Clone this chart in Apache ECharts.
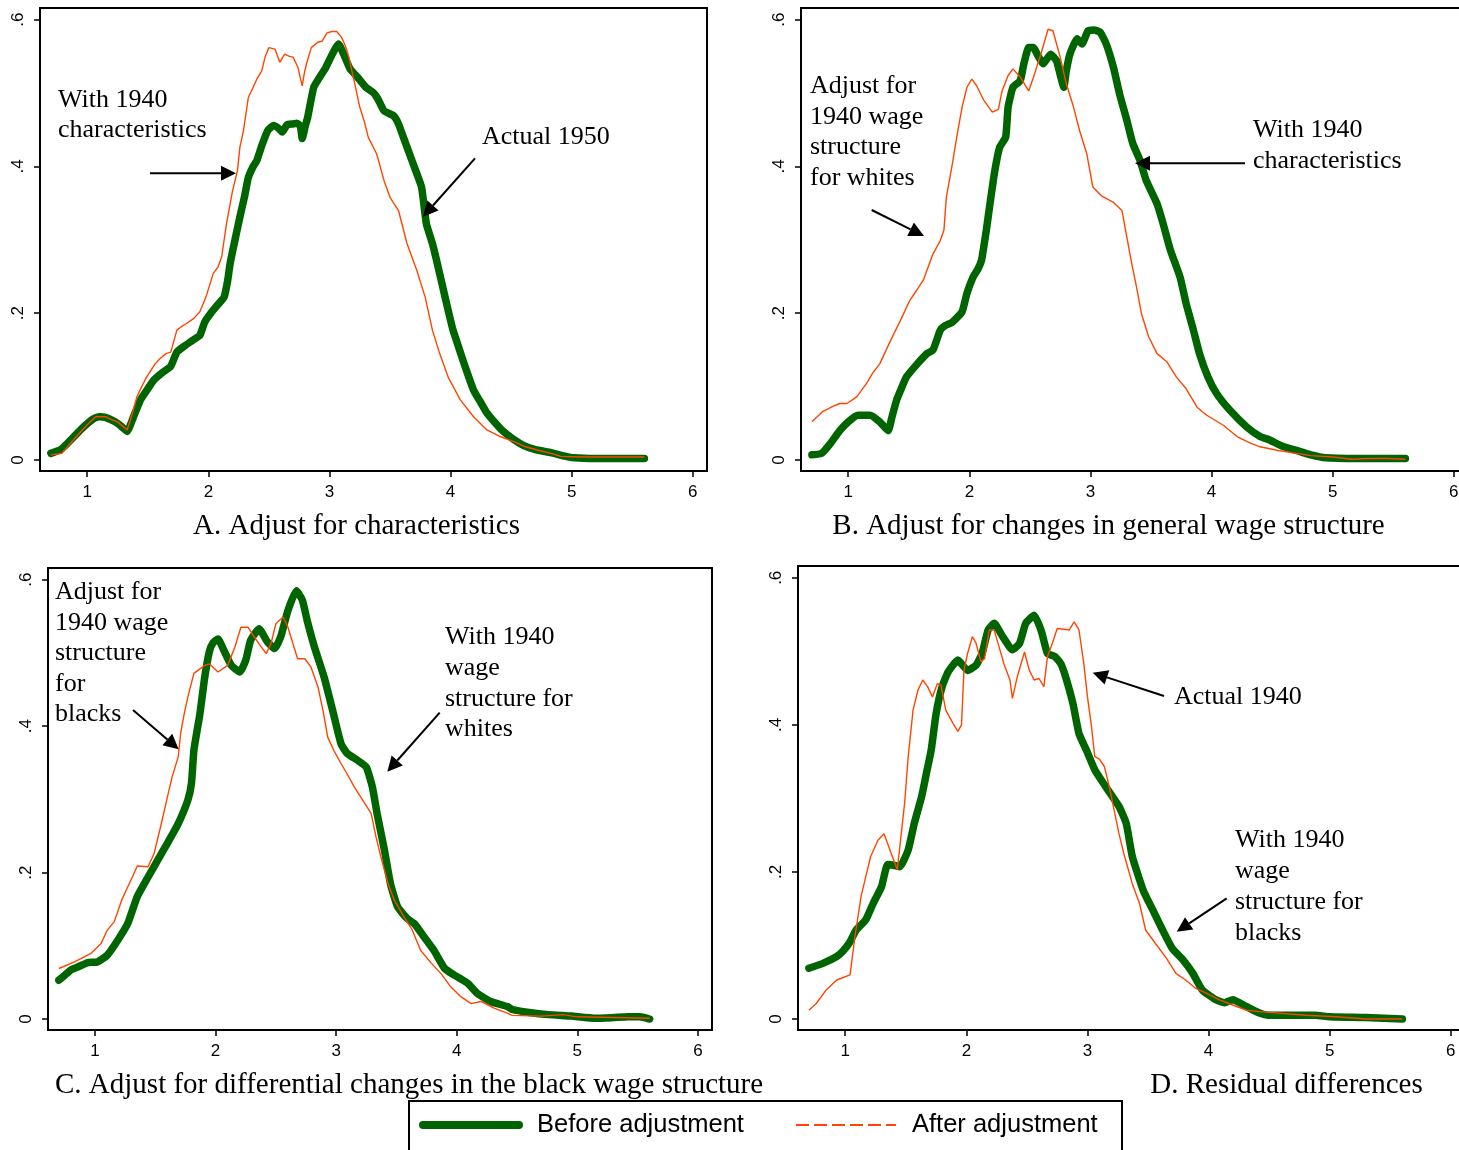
<!DOCTYPE html>
<html>
<head>
<meta charset="utf-8">
<script src="https://cdn.jsdelivr.net/npm/echarts@6/dist/echarts.min.js"></script>
<style>
html,body{margin:0;padding:0;background:#fff;}
#chart{width:1459px;height:1150px;}
</style>
</head>
<body>
<div id="chart"></div>
<script>
// ---------- Data (x = log wage, y = density) ----------
const xTicks = [1, 2, 3, 4, 5, 6];
const yTicks = [0, 0.2, 0.4, 0.6];

const panelTitles = [
  "A. Adjust for characteristics",
  "B. Adjust for changes in general wage structure",
  "C. Adjust for differential changes in the black wage structure",
  "D. Residual differences"
];
const legendLabels = ["Before adjustment", "After adjustment"];

const aBefore = [[0.70,0.009],[0.78,0.014],[0.85,0.025],[0.95,0.042],[1.05,0.056],[1.10,0.059],[1.15,0.058],[1.23,0.052],[1.28,0.046],[1.33,0.039],[1.38,0.058],[1.44,0.082],[1.50,0.097],[1.55,0.109],[1.62,0.119],[1.69,0.128],[1.74,0.147],[1.80,0.155],[1.87,0.163],[1.93,0.170],[1.97,0.188],[2.02,0.200],[2.08,0.212],[2.13,0.222],[2.16,0.245],[2.18,0.268],[2.22,0.300],[2.26,0.331],[2.30,0.360],[2.33,0.385],[2.37,0.400],[2.40,0.408],[2.44,0.428],[2.49,0.449],[2.54,0.456],[2.58,0.452],[2.61,0.447],[2.65,0.457],[2.70,0.458],[2.73,0.459],[2.76,0.455],[2.775,0.438],[2.80,0.455],[2.82,0.467],[2.87,0.508],[2.92,0.522],[2.97,0.535],[3.02,0.552],[3.075,0.567],[3.12,0.552],[3.17,0.533],[3.23,0.522],[3.30,0.508],[3.36,0.501],[3.40,0.492],[3.45,0.476],[3.53,0.469],[3.57,0.458],[3.61,0.440],[3.65,0.422],[3.69,0.404],[3.76,0.372],[3.80,0.322],[3.85,0.295],[3.89,0.268],[3.96,0.218],[4.02,0.177],[4.07,0.152],[4.11,0.132],[4.19,0.095],[4.25,0.078],[4.30,0.064],[4.41,0.043],[4.45,0.037],[4.52,0.028],[4.60,0.020],[4.70,0.014],[4.83,0.010],[4.92,0.006],[5.02,0.003],[5.20,0.002],[5.40,0.002],[5.60,0.002]];
const aAfter = [[0.70,0.007],[0.79,0.009],[0.90,0.030],[1.00,0.048],[1.07,0.059],[1.15,0.059],[1.20,0.055],[1.25,0.052],[1.33,0.041],[1.37,0.062],[1.41,0.086],[1.45,0.100],[1.49,0.113],[1.56,0.131],[1.60,0.138],[1.65,0.145],[1.69,0.147],[1.74,0.177],[1.78,0.182],[1.82,0.186],[1.88,0.193],[1.93,0.202],[1.98,0.222],[2.04,0.254],[2.08,0.263],[2.11,0.277],[2.15,0.322],[2.20,0.367],[2.24,0.394],[2.26,0.426],[2.29,0.449],[2.33,0.494],[2.37,0.508],[2.40,0.519],[2.44,0.530],[2.47,0.550],[2.50,0.562],[2.55,0.560],[2.59,0.542],[2.63,0.553],[2.67,0.550],[2.70,0.549],[2.74,0.535],[2.76,0.520],[2.775,0.510],[2.79,0.525],[2.81,0.540],[2.85,0.562],[2.90,0.569],[2.94,0.571],[2.98,0.582],[3.02,0.584],[3.06,0.584],[3.10,0.576],[3.13,0.565],[3.16,0.549],[3.21,0.512],[3.25,0.481],[3.29,0.460],[3.32,0.440],[3.39,0.417],[3.45,0.381],[3.50,0.358],[3.57,0.340],[3.64,0.295],[3.72,0.259],[3.79,0.222],[3.85,0.177],[3.91,0.145],[3.98,0.113],[4.08,0.082],[4.19,0.059],[4.30,0.041],[4.41,0.032],[4.52,0.025],[4.62,0.018],[4.73,0.013],[4.83,0.009],[4.91,0.005],[5.10,0.004],[5.30,0.004],[5.60,0.004]];

const bBefore = [[0.70,0.007],[0.78,0.009],[0.85,0.022],[0.93,0.040],[1.00,0.052],[1.08,0.061],[1.18,0.061],[1.26,0.052],[1.33,0.040],[1.36,0.058],[1.40,0.082],[1.44,0.098],[1.48,0.113],[1.57,0.131],[1.65,0.145],[1.70,0.150],[1.76,0.177],[1.80,0.183],[1.86,0.188],[1.94,0.202],[1.98,0.227],[2.03,0.249],[2.07,0.260],[2.10,0.272],[2.14,0.313],[2.17,0.349],[2.21,0.394],[2.25,0.426],[2.30,0.440],[2.32,0.481],[2.36,0.508],[2.42,0.517],[2.45,0.540],[2.49,0.562],[2.53,0.562],[2.56,0.553],[2.61,0.540],[2.67,0.553],[2.72,0.544],[2.75,0.525],[2.78,0.508],[2.80,0.530],[2.83,0.553],[2.89,0.574],[2.93,0.567],[2.98,0.585],[3.03,0.586],[3.08,0.583],[3.13,0.567],[3.19,0.535],[3.24,0.499],[3.30,0.463],[3.35,0.431],[3.41,0.408],[3.46,0.381],[3.55,0.349],[3.60,0.322],[3.66,0.286],[3.74,0.249],[3.79,0.213],[3.85,0.177],[3.90,0.145],[3.97,0.113],[4.04,0.091],[4.15,0.068],[4.29,0.045],[4.40,0.032],[4.47,0.028],[4.58,0.019],[4.70,0.013],[4.82,0.007],[4.94,0.003],[5.20,0.002],[5.60,0.002]];
const bAfter = [[0.70,0.052],[0.79,0.066],[0.86,0.072],[0.93,0.077],[0.99,0.077],[1.07,0.086],[1.15,0.104],[1.20,0.118],[1.26,0.131],[1.35,0.163],[1.43,0.190],[1.51,0.218],[1.56,0.230],[1.62,0.245],[1.70,0.281],[1.76,0.299],[1.79,0.313],[1.81,0.358],[1.86,0.404],[1.90,0.444],[1.94,0.481],[1.98,0.508],[2.02,0.519],[2.06,0.510],[2.12,0.490],[2.19,0.474],[2.24,0.478],[2.27,0.503],[2.32,0.524],[2.36,0.533],[2.42,0.522],[2.49,0.503],[2.53,0.522],[2.59,0.553],[2.65,0.587],[2.69,0.585],[2.75,0.549],[2.80,0.513],[2.86,0.481],[2.91,0.449],[2.97,0.417],[3.02,0.372],[3.09,0.360],[3.19,0.351],[3.26,0.340],[3.30,0.304],[3.34,0.268],[3.38,0.236],[3.42,0.200],[3.48,0.168],[3.55,0.145],[3.63,0.134],[3.71,0.113],[3.79,0.097],[3.88,0.072],[3.96,0.061],[4.10,0.047],[4.21,0.032],[4.32,0.023],[4.40,0.018],[4.55,0.013],[4.70,0.009],[4.82,0.006],[5.00,0.004],[5.16,0.001],[5.30,0.002],[5.45,0.002],[5.60,0.001]];

const cBefore = [[0.70,0.053],[0.75,0.060],[0.80,0.067],[0.87,0.072],[0.94,0.077],[1.02,0.078],[1.10,0.087],[1.19,0.108],[1.27,0.130],[1.35,0.167],[1.44,0.194],[1.52,0.217],[1.60,0.240],[1.69,0.267],[1.77,0.299],[1.80,0.322],[1.82,0.367],[1.87,0.417],[1.91,0.467],[1.95,0.503],[1.98,0.514],[2.02,0.519],[2.07,0.503],[2.13,0.483],[2.20,0.474],[2.25,0.490],[2.29,0.517],[2.36,0.533],[2.43,0.515],[2.49,0.506],[2.54,0.522],[2.60,0.558],[2.67,0.585],[2.72,0.572],[2.76,0.544],[2.82,0.508],[2.90,0.467],[2.97,0.422],[3.04,0.376],[3.09,0.363],[3.18,0.353],[3.25,0.344],[3.30,0.317],[3.34,0.280],[3.40,0.231],[3.45,0.185],[3.51,0.153],[3.59,0.137],[3.65,0.130],[3.73,0.112],[3.81,0.094],[3.90,0.069],[3.98,0.060],[4.09,0.049],[4.17,0.035],[4.28,0.024],[4.42,0.017],[4.46,0.013],[4.60,0.009],[4.76,0.006],[4.95,0.004],[5.15,0.001],[5.30,0.002],[5.42,0.003],[5.52,0.003],[5.60,0.000]];
const cAfter = [[0.70,0.069],[0.83,0.078],[0.97,0.090],[1.05,0.103],[1.10,0.121],[1.16,0.133],[1.22,0.162],[1.27,0.180],[1.31,0.194],[1.35,0.209],[1.44,0.208],[1.49,0.226],[1.55,0.267],[1.60,0.303],[1.64,0.331],[1.69,0.358],[1.71,0.390],[1.74,0.417],[1.77,0.440],[1.82,0.472],[1.91,0.483],[1.95,0.485],[2.02,0.474],[2.10,0.483],[2.16,0.508],[2.21,0.535],[2.27,0.535],[2.32,0.522],[2.38,0.508],[2.42,0.499],[2.46,0.513],[2.50,0.540],[2.56,0.549],[2.60,0.535],[2.65,0.508],[2.68,0.492],[2.74,0.492],[2.79,0.481],[2.85,0.453],[2.89,0.422],[2.93,0.385],[2.98,0.367],[3.04,0.349],[3.09,0.335],[3.15,0.317],[3.22,0.299],[3.29,0.281],[3.33,0.249],[3.37,0.222],[3.43,0.185],[3.48,0.163],[3.56,0.140],[3.63,0.122],[3.70,0.094],[3.79,0.076],[3.87,0.062],[3.95,0.044],[4.03,0.031],[4.12,0.021],[4.20,0.024],[4.31,0.015],[4.42,0.008],[4.46,0.005],[4.70,0.004],[4.88,0.006],[5.00,0.003],[5.30,0.002],[5.60,0.001]];

const dBefore = [[0.70,0.069],[0.82,0.076],[0.93,0.085],[0.98,0.092],[1.04,0.105],[1.09,0.121],[1.17,0.135],[1.23,0.157],[1.30,0.180],[1.35,0.210],[1.40,0.209],[1.45,0.207],[1.52,0.230],[1.57,0.266],[1.63,0.302],[1.67,0.334],[1.71,0.366],[1.75,0.415],[1.80,0.452],[1.85,0.472],[1.93,0.488],[2.01,0.474],[2.08,0.481],[2.13,0.497],[2.18,0.529],[2.23,0.538],[2.30,0.520],[2.38,0.502],[2.44,0.511],[2.49,0.538],[2.56,0.549],[2.62,0.527],[2.67,0.497],[2.73,0.493],[2.78,0.483],[2.82,0.465],[2.88,0.429],[2.93,0.388],[2.99,0.366],[3.06,0.339],[3.15,0.316],[3.26,0.289],[3.32,0.266],[3.37,0.221],[3.46,0.175],[3.54,0.148],[3.62,0.121],[3.70,0.096],[3.79,0.080],[3.87,0.062],[3.95,0.039],[4.06,0.026],[4.13,0.022],[4.20,0.026],[4.31,0.017],[4.42,0.008],[4.49,0.005],[4.70,0.005],[4.88,0.005],[5.00,0.003],[5.30,0.002],[5.60,0.000]];
const dAfter = [[0.70,0.012],[0.76,0.021],[0.84,0.039],[0.93,0.053],[1.04,0.060],[1.08,0.112],[1.13,0.166],[1.17,0.194],[1.21,0.221],[1.27,0.243],[1.32,0.252],[1.38,0.225],[1.43,0.203],[1.49,0.293],[1.52,0.357],[1.56,0.420],[1.60,0.447],[1.64,0.461],[1.68,0.452],[1.72,0.438],[1.76,0.456],[1.79,0.454],[1.83,0.420],[1.89,0.402],[1.93,0.391],[1.96,0.400],[1.98,0.474],[2.01,0.497],[2.05,0.520],[2.08,0.511],[2.12,0.486],[2.15,0.490],[2.19,0.529],[2.23,0.529],[2.27,0.506],[2.31,0.483],[2.36,0.461],[2.38,0.436],[2.42,0.465],[2.48,0.499],[2.52,0.474],[2.56,0.461],[2.60,0.463],[2.64,0.452],[2.67,0.493],[2.71,0.511],[2.75,0.531],[2.81,0.530],[2.85,0.529],[2.89,0.540],[2.93,0.529],[2.97,0.483],[3.00,0.438],[3.03,0.402],[3.06,0.357],[3.10,0.353],[3.14,0.343],[3.18,0.316],[3.22,0.284],[3.26,0.252],[3.30,0.225],[3.37,0.184],[3.43,0.157],[3.48,0.121],[3.56,0.103],[3.65,0.083],[3.73,0.062],[3.81,0.053],[3.89,0.042],[3.98,0.035],[4.09,0.026],[4.20,0.019],[4.31,0.012],[4.42,0.010],[4.50,0.009],[4.80,0.005],[5.05,0.003],[5.30,0.000],[5.60,0.000]];

const beforeSeries = [aBefore, bBefore, cBefore, dBefore];
const afterSeries = [aAfter, bAfter, cAfter, dAfter];

// ---------- Layout ----------
const GREEN = '#006400';
const ORANGE = '#ff4500';
const SERIF = '"Liberation Serif","Times New Roman",serif';
const SANS = '"Liberation Sans",Arial,sans-serif';

const grids = [
  {left: 40,  top: 8,   width: 667, height: 463},
  {left: 801, top: 8,   width: 667, height: 463},
  {left: 48,  top: 568, width: 664, height: 462},
  {left: 798, top: 566, width: 667, height: 464}
];

const xAxes = grids.map((g, i) => ({
  type: 'value', gridIndex: i, min: 0.61, max: 6.117,
  splitLine: {show: false},
  axisLine: {show: true, onZero: false, lineStyle: {color: '#000', width: 2}},
  axisTick: {show: true, customValues: xTicks, length: 6, lineStyle: {color: '#000', width: 1.5}},
  axisLabel: {customValues: xTicks, color: '#000', fontSize: 17, fontFamily: SANS, margin: 13}
}));
const yAxes = grids.map((g, i) => ({
  type: 'value', gridIndex: i, min: -0.015, max: 0.616,
  splitLine: {show: false},
  axisLine: {show: true, onZero: false, lineStyle: {color: '#000', width: 2}},
  axisTick: {show: true, customValues: yTicks, length: 6, lineStyle: {color: '#000', width: 1.5}},
  axisLabel: {customValues: yTicks, color: '#000', fontSize: 17, fontFamily: SANS, margin: 13, rotate: 90,
    formatter: v => (Math.abs(v) < 1e-9 ? '0' : ('' + (+v.toFixed(1))).replace(/^0\./, '.'))}
}));

const series = [];
for (let i = 0; i < 4; i++) {
  series.push({
    type: 'line', xAxisIndex: i, yAxisIndex: i, data: beforeSeries[i],
    showSymbol: false, symbol: 'none', smooth: 0.15, z: 2,
    lineStyle: {color: GREEN, width: 7.5, cap: 'round', join: 'round'}
  });
  series.push({
    type: 'line', xAxisIndex: i, yAxisIndex: i, data: afterSeries[i],
    showSymbol: false, symbol: 'none', z: 3,
    lineStyle: {color: ORANGE, width: 1.4}
  });
}

// annotations: [left x, first line middle y, step, lines]
const notes = [
  [58, 100, 30.5, ["With 1940", "characteristics"]],
  [482, 137, 30.5, ["Actual 1950"]],
  [810, 86, 30.8, ["Adjust for", "1940 wage", "structure", "for whites"]],
  [1253, 130, 31, ["With 1940", "characteristics"]],
  [55, 592.5, 30.5, ["Adjust for", "1940 wage", "structure", "for", "blacks"]],
  [445, 637.5, 30.7, ["With 1940", "wage", "structure for", "whites"]],
  [1174, 697.5, 30.5, ["Actual 1940"]],
  [1235, 840.5, 30.8, ["With 1940", "wage", "structure for", "blacks"]]
];
const arrows = [
  [150, 173.3, 236, 173.3],
  [475, 158.3, 423, 216.7],
  [871.7, 210, 924, 236],
  [1245, 163.3, 1135, 163.3],
  [133, 710, 178.7, 749.3],
  [439.7, 712.7, 387.3, 771.7],
  [1164, 696, 1092.7, 672.7],
  [1226.7, 898.3, 1176.7, 931.7]
];
const titlePos = [
  [356.5, 526, 'center'], [1108.5, 526, 'center'], [55, 1085, 'left'], [1286.5, 1085, 'center']
];

const graphics = [];
notes.forEach(n => {
  n[3].forEach((t, k) => {
    graphics.push({type: 'text', z: 10, style: {text: t, x: n[0], y: n[1] + k * n[2],
      textAlign: 'left', textVerticalAlign: 'middle', font: '26px ' + SERIF, fill: '#000'}});
  });
});
arrows.forEach(a => {
  const [x1, y1, x2, y2] = a;
  const dx = x2 - x1, dy = y2 - y1, L = Math.hypot(dx, dy);
  const ux = dx / L, uy = dy / L, hl = 15, hw = 7.5;
  const bx = x2 - ux * hl, by = y2 - uy * hl;
  graphics.push({type: 'line', z: 10, shape: {x1, y1, x2: bx, y2: by}, style: {stroke: '#000', lineWidth: 2}});
  graphics.push({type: 'polygon', z: 10, shape: {points: [[x2, y2], [bx - uy * hw, by + ux * hw], [bx + uy * hw, by - ux * hw]]},
    style: {fill: '#000'}});
});
panelTitles.forEach((t, i) => {
  const p = titlePos[i];
  graphics.push({type: 'text', z: 10, style: {text: t, x: p[0], y: p[1], textAlign: p[2], textVerticalAlign: 'middle',
    font: '29px ' + SERIF, fill: '#000'}});
});
// legend
graphics.push({type: 'rect', z: 10, shape: {x: 409, y: 1101, width: 713, height: 70}, style: {fill: '#fff', stroke: '#000', lineWidth: 2}});
graphics.push({type: 'line', z: 11, shape: {x1: 423, y1: 1125, x2: 519, y2: 1125}, style: {stroke: GREEN, lineWidth: 8, lineCap: 'round'}});
graphics.push({type: 'line', z: 11, shape: {x1: 796, y1: 1125, x2: 896, y2: 1125}, style: {stroke: ORANGE, lineWidth: 2, lineDash: [13, 5]}});
graphics.push({type: 'text', z: 11, style: {text: legendLabels[0], x: 537, y: 1125, textAlign: 'left', textVerticalAlign: 'middle', font: '25.5px ' + SANS, fill: '#000'}});
graphics.push({type: 'text', z: 11, style: {text: legendLabels[1], x: 912, y: 1125, textAlign: 'left', textVerticalAlign: 'middle', font: '25.5px ' + SANS, fill: '#000'}});

const chart = echarts.init(document.getElementById('chart'), null, {renderer: 'canvas'});
chart.setOption({
  animation: false,
  backgroundColor: '#fff',
  grid: grids.map(g => Object.assign({show: true, borderColor: '#000', borderWidth: 2, backgroundColor: 'transparent',
    containLabel: false, outerBoundsMode: 'none'}, g)),
  xAxis: xAxes,
  yAxis: yAxes,
  series: series,
  graphic: {elements: graphics}
});
</script>
</body>
</html>
